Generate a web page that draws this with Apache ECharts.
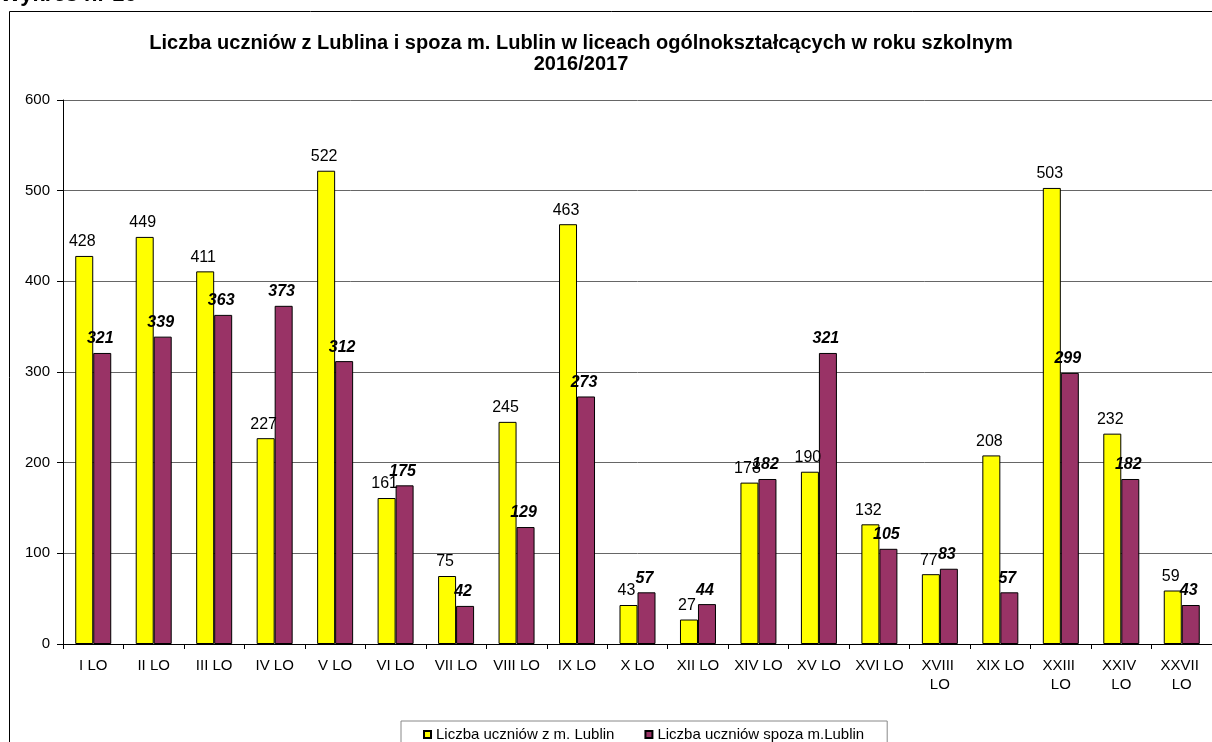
<!DOCTYPE html>
<html>
<head>
<meta charset="utf-8">
<script src="https://cdn.jsdelivr.net/npm/echarts@6/dist/echarts.min.js"></script>
<style>
html,body{margin:0;padding:0;background:#fff;}
#chart{width:1212px;height:742px;}
</style>
</head>
<body>
<div id="chart"></div>
<script>
const categories = ['I LO','II LO','III LO','IV LO','V LO','VI LO','VII LO','VIII LO','IX LO','X LO','XII LO','XIV LO','XV LO','XVI LO','XVIII LO','XIX LO','XXIII LO','XXIV LO','XXVII LO'];
const lublin = [428,449,411,227,522,161,75,245,463,43,27,178,190,132,77,208,503,232,59];
const spoza = [321,339,363,373,312,175,42,129,273,57,44,182,321,105,83,57,299,182,43];
const yTicks = [0,100,200,300,400,500,600];
const seriesNames = ['Liczba uczniów z m. Lublin','Liczba uczniów spoza m.Lublin'];

const FONT = 'Arial, "Liberation Sans", sans-serif';
const chart = echarts.init(document.getElementById('chart'), null, {renderer:'canvas'});
chart.setOption({
  animation:false,
  backgroundColor:'#fff',
  title:{
    text:'Liczba uczniów z Lublina i spoza m. Lublin w liceach ogólnokształcących w roku szkolnym\n2016/2017',
    left:576, top:28, textAlign:'center',
    textStyle:{fontFamily:FONT, fontWeight:'bold', fontSize:20, color:'#000', lineHeight:21}
  },
  graphic:[
    {type:'rect', shape:{x:9.5,y:11.5,width:1400,height:900}, style:{fill:'none',stroke:'#000',lineWidth:1}, silent:true},
    {type:'text', x:0, y:6, style:{text:'Wykres nr 16', font:'bold 22px Arial, "Liberation Sans", sans-serif', fill:'#000', verticalAlign:'bottom'}}
  ],
  legend:{
    left:401, top:721,
    padding:[6,23,8,22],
    borderColor:'#888', borderWidth:1,
    itemWidth:7, itemHeight:7, itemGap:30,
    icon:'rect',
    textStyle:{fontFamily:FONT, fontSize:15, color:'#000'},
    data:seriesNames
  },
  grid:{left:63, right:0, top:100, bottom:98, containLabel:false},
  xAxis:{
    type:'category',
    data:categories,
    axisLine:{lineStyle:{color:'#000',width:1}},
    axisTick:{show:true, length:5, lineStyle:{color:'#000'}},
    axisLabel:{fontFamily:FONT, fontSize:15, color:'#000', margin:12, interval:0, width:54, overflow:'break', lineHeight:19}
  },
  yAxis:{
    type:'value', min:0, max:600, interval:100,
    axisLine:{show:true, lineStyle:{color:'#000'}},
    axisTick:{show:true, length:6, lineStyle:{color:'#000'}},
    axisLabel:{fontFamily:FONT, fontSize:15, color:'#000', margin:13,
      formatter:function(v){return yTicks.indexOf(v)>=0 ? String(v) : '';}},
    splitLine:{show:true, lineStyle:{color:'#666', width:1}}
  },
  series:[
    {
      name:seriesNames[0], type:'bar', data:lublin,
      barWidth:18, barGap:'0%', barCategoryGap:'40%',
      itemStyle:{color:'#FFFF00', borderColor:'#000', borderWidth:1},
      label:{show:true, position:'top', distance:6, offset:[-2,0],
        fontFamily:FONT, fontSize:16, color:'#000'}
    },
    {
      name:seriesNames[1], type:'bar', data:spoza,
      barWidth:18, barGap:'0%',
      itemStyle:{color:'#993366', borderColor:'#000', borderWidth:1},
      label:{show:true, position:'top', distance:6, offset:[-2,0],
        fontFamily:FONT, fontSize:16, fontWeight:'bold', fontStyle:'italic', color:'#000'}
    }
  ]
});
</script>
</body>
</html>
